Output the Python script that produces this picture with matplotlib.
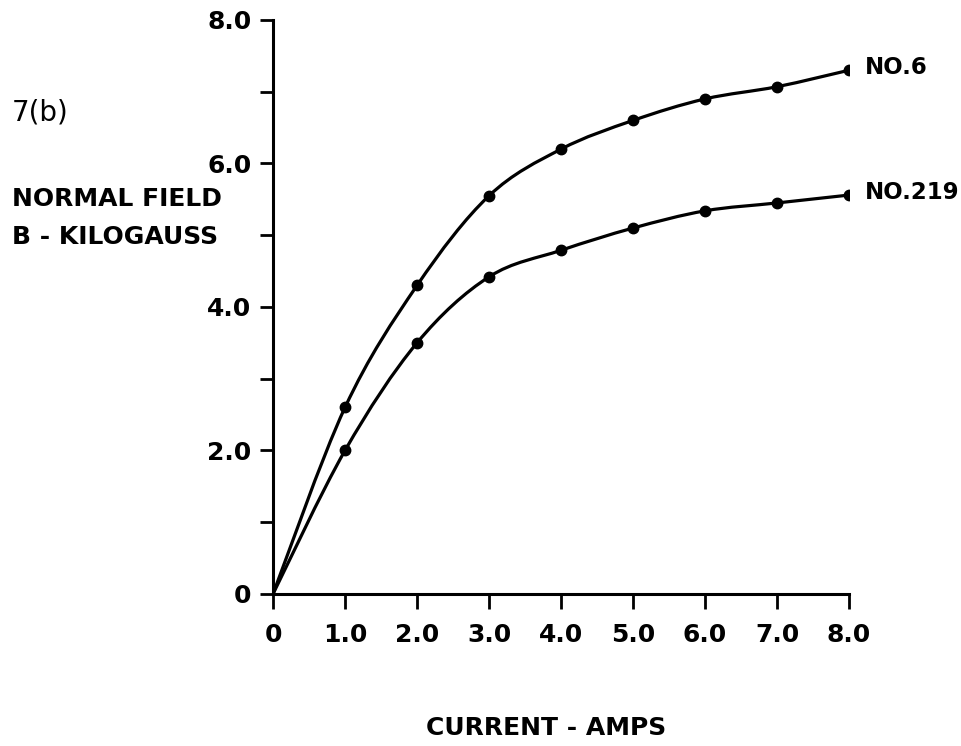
import matplotlib.pyplot as plt
from matplotlib.path import Path
from matplotlib.patches import PathPatch

# current in amps, field in kilogauss (curves start at the origin)
current = [0, 1.0, 2.0, 3.0, 4.0, 5.0, 6.0, 7.0, 8.0]
field_no6 = [0, 2.6, 4.3, 5.55, 6.2, 6.6, 6.9, 7.07, 7.3]
field_no219 = [0, 2.0, 3.5, 4.42, 4.79, 5.1, 5.34, 5.45, 5.56]

xticks = [0, 1, 2, 3, 4, 5, 6, 7, 8]
xticklabels = ["0", "1.0", "2.0", "3.0", "4.0", "5.0", "6.0", "7.0", "8.0"]
yticks = [0, 1, 2, 3, 4, 5, 6, 7, 8]
yticklabels = ["0", "", "2.0", "", "4.0", "", "6.0", "", "8.0"]


def smooth_path(x, y):
    # catmull-rom through the points, written as cubic bezier segments
    verts = [(x[0], y[0])]
    codes = [Path.MOVETO]
    n = len(x)
    for i in range(n - 1):
        x0, y0 = (x[i - 1], y[i - 1]) if i > 0 else (x[i], y[i])
        x3, y3 = (x[i + 2], y[i + 2]) if i + 2 < n else (x[i + 1], y[i + 1])
        c1 = (x[i] + (x[i + 1] - x0) / 6, y[i] + (y[i + 1] - y0) / 6)
        c2 = (x[i + 1] - (x3 - x[i]) / 6, y[i + 1] - (y3 - y[i]) / 6)
        verts += [c1, c2, (x[i + 1], y[i + 1])]
        codes += [Path.CURVE4] * 3
    return Path(verts, codes)


lab = dict(fontsize=18, fontweight="bold")

fig = plt.figure(figsize=(9.61, 7.46), dpi=100)
ax = fig.add_axes([0.2841, 0.2038, 0.5994, 0.7694])

for ys, name in [(field_no6, "NO.6"), (field_no219, "NO.219")]:
    ax.add_patch(PathPatch(smooth_path(current, ys), fill=False, lw=2.3,
                           edgecolor="black", capstyle="round"))
    ax.plot(current[1:], ys[1:], "o", color="black", ms=7.5)
    ax.annotate(name, (current[-1], ys[-1]), xytext=(11.5, 2),
                textcoords="offset points", va="center", ha="left",
                fontsize=16.5, fontweight="bold")

ax.set_xlim(0, 8)
ax.set_ylim(0, 8)
ax.set_xticks(xticks)
ax.set_xticklabels(xticklabels, fontweight="bold")
ax.set_yticks(yticks)
ax.set_yticklabels(yticklabels, fontweight="bold")
ax.tick_params(direction="out", width=2, labelsize=18)
ax.tick_params(axis="y", length=9.5, pad=6)
ax.tick_params(axis="x", length=11, pad=10)
for s in ["top", "right"]:
    ax.spines[s].set_visible(False)
for s in ["left", "bottom"]:
    ax.spines[s].set_linewidth(2.2)

fig.text(12 / 961, 1 - 113 / 746, "7(b)", va="center", ha="left", fontsize=20)
fig.text(12 / 961, 1 - 199 / 746, "NORMAL FIELD", va="center", ha="left", **lab)
fig.text(12 / 961, 1 - 237 / 746, "B - KILOGAUSS", va="center", ha="left", **lab)
fig.text(546 / 961, 1 - 728 / 746, "CURRENT - AMPS", va="center", ha="center", **lab)

fig.savefig("out.png", dpi=100)
